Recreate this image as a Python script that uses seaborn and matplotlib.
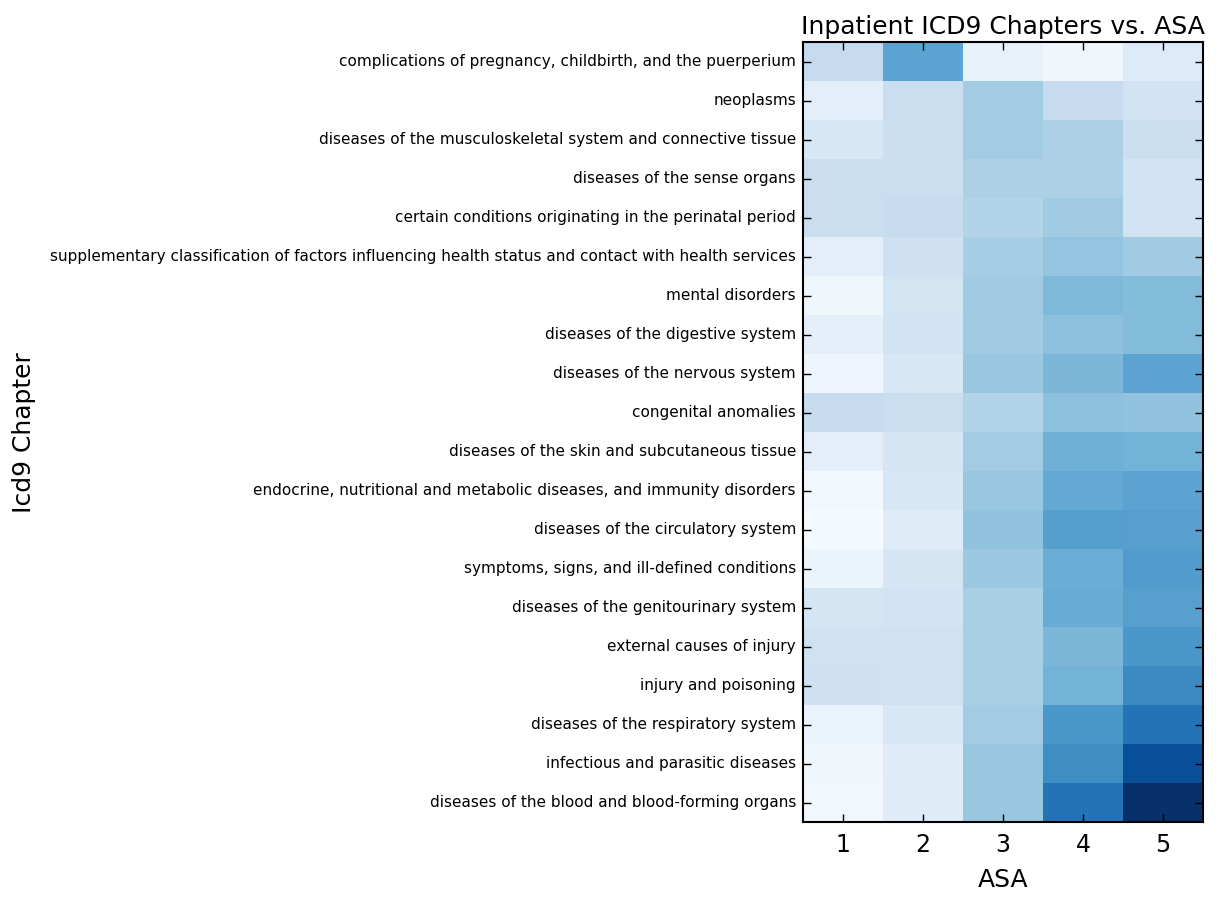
import numpy as np
import pandas as pd
import matplotlib
matplotlib.use("Agg")
import matplotlib.pyplot as plt
import seaborn as sns

# ---------- data ----------
chapters = [
    "complications of pregnancy, childbirth, and the puerperium",
    "neoplasms",
    "diseases of the musculoskeletal system and connective tissue",
    "diseases of the sense organs",
    "certain conditions originating in the perinatal period",
    "supplementary classification of factors influencing health status and contact with health services",
    "mental disorders",
    "diseases of the digestive system",
    "diseases of the nervous system",
    "congenital anomalies",
    "diseases of the skin and subcutaneous tissue",
    "endocrine, nutritional and metabolic diseases, and immunity disorders",
    "diseases of the circulatory system",
    "symptoms, signs, and ill-defined conditions",
    "diseases of the genitourinary system",
    "external causes of injury",
    "injury and poisoning",
    "diseases of the respiratory system",
    "infectious and parasitic diseases",
    "diseases of the blood and blood-forming organs",
]
asa = [1, 2, 3, 4, 5]

asa1 = [0.25, 0.10, 0.16, 0.23, 0.23, 0.10, 0.04, 0.09, 0.05, 0.24,
        0.10, 0.02, 0.01, 0.06, 0.17, 0.20, 0.21, 0.07, 0.04, 0.03]
asa2 = [0.55, 0.23, 0.22, 0.23, 0.24, 0.21, 0.18, 0.19, 0.16, 0.23,
        0.17, 0.16, 0.12, 0.17, 0.19, 0.20, 0.20, 0.16, 0.12, 0.12]
asa3 = [0.08, 0.36, 0.36, 0.33, 0.31, 0.35, 0.37, 0.37, 0.39, 0.31,
        0.36, 0.39, 0.41, 0.38, 0.34, 0.34, 0.34, 0.36, 0.39, 0.39]
asa4 = [0.04, 0.25, 0.33, 0.33, 0.37, 0.40, 0.45, 0.42, 0.46, 0.42,
        0.49, 0.52, 0.57, 0.50, 0.51, 0.46, 0.48, 0.60, 0.64, 0.74]
asa5 = [0.13, 0.19, 0.23, 0.19, 0.19, 0.37, 0.44, 0.44, 0.55, 0.41,
        0.48, 0.55, 0.56, 0.58, 0.56, 0.60, 0.65, 0.74, 0.88, 1.00]

df = pd.DataFrame({1: asa1, 2: asa2, 3: asa3, 4: asa4, 5: asa5}, index=chapters)
df.columns = asa

# ---------- plot ----------
sns.set_style("white")
plt.rcParams["font.family"] = ["DejaVu Sans"]
plt.rcParams["text.color"] = "black"
plt.rcParams["axes.labelcolor"] = "black"
plt.rcParams["xtick.color"] = "black"
plt.rcParams["ytick.color"] = "black"

fig = plt.figure(figsize=(12.24, 8.98), dpi=100)
ax = fig.add_axes([0.656, 0.0846, 0.327, 0.8684])

sns.heatmap(df, cmap="Blues", vmin=0, vmax=1, cbar=False, ax=ax)
ax.set_axisbelow(False)

for spine in ax.spines.values():
    spine.set_visible(True)
    spine.set_color("black")
    spine.set_linewidth(1.5)

ax.tick_params(axis="both", direction="in", length=6, width=1, color="black",
               top=True, right=True, left=True, bottom=True)
ax.tick_params(axis="y", labelsize=11, pad=5)
ax.tick_params(axis="x", labelsize=17, pad=8)
ax.set_yticklabels(chapters, rotation=0)
ax.set_xticklabels([str(a) for a in asa], rotation=0)

ax.set_xlabel("ASA", fontsize=18, labelpad=8)
ax.set_ylabel("Icd9 Chapter", fontsize=18, labelpad=10)
ax.set_title("Inpatient ICD9 Chapters vs. ASA", fontsize=18)

fig.savefig("out.png", dpi=100, facecolor="white")
